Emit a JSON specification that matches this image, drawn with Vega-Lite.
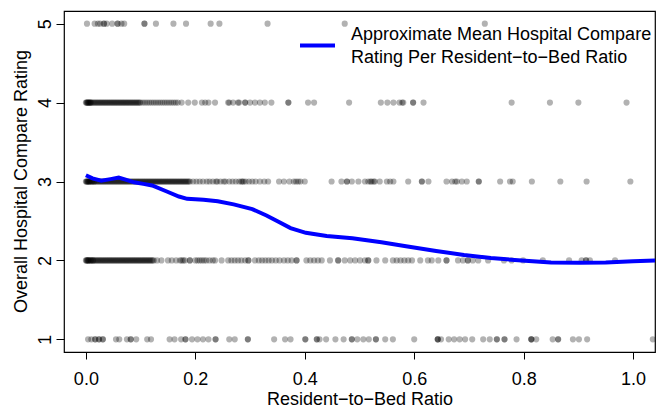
{
"$schema":"https://vega.github.io/schema/vega-lite/v6.json",
"width":591,"height":341,
"autosize":{"type":"none"},
"padding":{"left":64,"top":11,"right":4,"bottom":56},
"config":{"font":"Liberation Sans","view":{"stroke":"black","strokeWidth":1.2},
"axis":{"grid":false,"domain":false,"tickColor":"black","tickWidth":1,"labelColor":"black","labelFontSize":18,"titleColor":"black","titleFontSize":18,"titleFontWeight":"normal","labelFlush":false,"labelOverlap":false,"labelBound":false},
"style":{"guide-label":{"lineHeight":23}}},
"datasets":{
"pts":[
{"ratio":0.002,"rating":5},{"ratio":0.016,"rating":5},{"ratio":0.022,"rating":5},{"ratio":0.026,"rating":5},{"ratio":0.033,"rating":5},{"ratio":0.033,"rating":5},{"ratio":0.038,"rating":5},{"ratio":0.048,"rating":5},{"ratio":0.058,"rating":5},{"ratio":0.058,"rating":5},{"ratio":0.065,"rating":5},{"ratio":0.07,"rating":5},{"ratio":0.107,"rating":5},{"ratio":0.107,"rating":5},{"ratio":0.128,"rating":5},{"ratio":0.16,"rating":5},{"ratio":0.183,"rating":5},{"ratio":0.228,"rating":5},{"ratio":0.244,"rating":5},{"ratio":0.332,"rating":5},{"ratio":0.473,"rating":5},{"ratio":0.729,"rating":5},
{"ratio":0,"rating":4},{"ratio":0.002,"rating":4},{"ratio":0.004,"rating":4},{"ratio":0.006,"rating":4},{"ratio":0.008,"rating":4},{"ratio":0.01,"rating":4},{"ratio":0.012,"rating":4},{"ratio":0.014,"rating":4},{"ratio":0.016,"rating":4},{"ratio":0.018,"rating":4},{"ratio":0.02,"rating":4},{"ratio":0.022,"rating":4},{"ratio":0.024,"rating":4},{"ratio":0.026,"rating":4},{"ratio":0.028,"rating":4},{"ratio":0.03,"rating":4},{"ratio":0.032,"rating":4},{"ratio":0.034,"rating":4},{"ratio":0.036,"rating":4},{"ratio":0.038,"rating":4},{"ratio":0.04,"rating":4},{"ratio":0.042,"rating":4},{"ratio":0.044,"rating":4},{"ratio":0.046,"rating":4},{"ratio":0.048,"rating":4},{"ratio":0.05,"rating":4},{"ratio":0.052,"rating":4},{"ratio":0.054,"rating":4},{"ratio":0.056,"rating":4},{"ratio":0.058,"rating":4},{"ratio":0.06,"rating":4},{"ratio":0.062,"rating":4},{"ratio":0.064,"rating":4},{"ratio":0.066,"rating":4},{"ratio":0.068,"rating":4},{"ratio":0.07,"rating":4},{"ratio":0.072,"rating":4},{"ratio":0.074,"rating":4},{"ratio":0.076,"rating":4},{"ratio":0.078,"rating":4},{"ratio":0.08,"rating":4},{"ratio":0.082,"rating":4},{"ratio":0.084,"rating":4},{"ratio":0.086,"rating":4},{"ratio":0.088,"rating":4},{"ratio":0.09,"rating":4},{"ratio":0.092,"rating":4},{"ratio":0.094,"rating":4},{"ratio":0.096,"rating":4},{"ratio":0.098,"rating":4},{"ratio":0.1,"rating":4},
{"ratio":0.001,"rating":4},{"ratio":0.003,"rating":4},{"ratio":0.005,"rating":4},{"ratio":0.007,"rating":4},{"ratio":0.009,"rating":4},
{"ratio":0.104,"rating":4},{"ratio":0.108,"rating":4},{"ratio":0.112,"rating":4},{"ratio":0.116,"rating":4},{"ratio":0.12,"rating":4},{"ratio":0.124,"rating":4},{"ratio":0.128,"rating":4},{"ratio":0.132,"rating":4},{"ratio":0.136,"rating":4},{"ratio":0.14,"rating":4},{"ratio":0.144,"rating":4},{"ratio":0.148,"rating":4},{"ratio":0.152,"rating":4},{"ratio":0.156,"rating":4},{"ratio":0.16,"rating":4},{"ratio":0.164,"rating":4},{"ratio":0.168,"rating":4},
{"ratio":0.175,"rating":4},{"ratio":0.187,"rating":4},{"ratio":0.199,"rating":4},{"ratio":0.212,"rating":4},{"ratio":0.218,"rating":4},{"ratio":0.224,"rating":4},{"ratio":0.236,"rating":4},{"ratio":0.26,"rating":4},{"ratio":0.262,"rating":4},{"ratio":0.269,"rating":4},{"ratio":0.278,"rating":4},{"ratio":0.28,"rating":4},{"ratio":0.291,"rating":4},{"ratio":0.291,"rating":4},{"ratio":0.3,"rating":4},{"ratio":0.309,"rating":4},{"ratio":0.318,"rating":4},{"ratio":0.327,"rating":4},{"ratio":0.339,"rating":4},{"ratio":0.37,"rating":4},{"ratio":0.37,"rating":4},{"ratio":0.406,"rating":4},{"ratio":0.417,"rating":4},{"ratio":0.481,"rating":4},{"ratio":0.539,"rating":4},{"ratio":0.551,"rating":4},{"ratio":0.562,"rating":4},{"ratio":0.573,"rating":4},{"ratio":0.578,"rating":4},{"ratio":0.58,"rating":4},{"ratio":0.598,"rating":4},{"ratio":0.598,"rating":4},{"ratio":0.617,"rating":4},{"ratio":0.778,"rating":4},{"ratio":0.848,"rating":4},{"ratio":0.9,"rating":4},{"ratio":0.988,"rating":4},
{"ratio":0,"rating":3},{"ratio":0.002,"rating":3},{"ratio":0.004,"rating":3},{"ratio":0.006,"rating":3},{"ratio":0.008,"rating":3},{"ratio":0.01,"rating":3},{"ratio":0.012,"rating":3},{"ratio":0.014,"rating":3},{"ratio":0.016,"rating":3},{"ratio":0.018,"rating":3},{"ratio":0.02,"rating":3},{"ratio":0.022,"rating":3},{"ratio":0.024,"rating":3},{"ratio":0.026,"rating":3},{"ratio":0.028,"rating":3},{"ratio":0.03,"rating":3},{"ratio":0.032,"rating":3},{"ratio":0.034,"rating":3},{"ratio":0.036,"rating":3},{"ratio":0.038,"rating":3},{"ratio":0.04,"rating":3},{"ratio":0.042,"rating":3},{"ratio":0.044,"rating":3},{"ratio":0.046,"rating":3},{"ratio":0.048,"rating":3},{"ratio":0.05,"rating":3},{"ratio":0.052,"rating":3},{"ratio":0.054,"rating":3},{"ratio":0.056,"rating":3},{"ratio":0.058,"rating":3},{"ratio":0.06,"rating":3},{"ratio":0.062,"rating":3},{"ratio":0.064,"rating":3},{"ratio":0.066,"rating":3},{"ratio":0.068,"rating":3},{"ratio":0.07,"rating":3},{"ratio":0.072,"rating":3},{"ratio":0.074,"rating":3},{"ratio":0.076,"rating":3},{"ratio":0.078,"rating":3},{"ratio":0.08,"rating":3},{"ratio":0.082,"rating":3},{"ratio":0.084,"rating":3},{"ratio":0.086,"rating":3},{"ratio":0.088,"rating":3},{"ratio":0.09,"rating":3},{"ratio":0.092,"rating":3},{"ratio":0.094,"rating":3},{"ratio":0.096,"rating":3},{"ratio":0.098,"rating":3},{"ratio":0.1,"rating":3},{"ratio":0.102,"rating":3},{"ratio":0.104,"rating":3},{"ratio":0.106,"rating":3},{"ratio":0.108,"rating":3},{"ratio":0.11,"rating":3},{"ratio":0.112,"rating":3},{"ratio":0.114,"rating":3},{"ratio":0.116,"rating":3},{"ratio":0.118,"rating":3},{"ratio":0.12,"rating":3},{"ratio":0.122,"rating":3},{"ratio":0.124,"rating":3},{"ratio":0.126,"rating":3},{"ratio":0.128,"rating":3},{"ratio":0.13,"rating":3},{"ratio":0.132,"rating":3},{"ratio":0.134,"rating":3},{"ratio":0.136,"rating":3},{"ratio":0.138,"rating":3},{"ratio":0.14,"rating":3},{"ratio":0.142,"rating":3},{"ratio":0.144,"rating":3},{"ratio":0.146,"rating":3},{"ratio":0.148,"rating":3},{"ratio":0.15,"rating":3},{"ratio":0.152,"rating":3},{"ratio":0.154,"rating":3},{"ratio":0.156,"rating":3},{"ratio":0.158,"rating":3},{"ratio":0.16,"rating":3},{"ratio":0.162,"rating":3},{"ratio":0.164,"rating":3},{"ratio":0.166,"rating":3},{"ratio":0.168,"rating":3},{"ratio":0.17,"rating":3},{"ratio":0.172,"rating":3},{"ratio":0.174,"rating":3},{"ratio":0.176,"rating":3},{"ratio":0.178,"rating":3},{"ratio":0.18,"rating":3},{"ratio":0.182,"rating":3},{"ratio":0.184,"rating":3},{"ratio":0.186,"rating":3},{"ratio":0.188,"rating":3},{"ratio":0.19,"rating":3},
{"ratio":0.001,"rating":3},{"ratio":0.003,"rating":3},{"ratio":0.005,"rating":3},{"ratio":0.007,"rating":3},{"ratio":0.011,"rating":3},{"ratio":0.015,"rating":3},
{"ratio":0.196,"rating":3},{"ratio":0.202,"rating":3},{"ratio":0.208,"rating":3},{"ratio":0.214,"rating":3},{"ratio":0.221,"rating":3},{"ratio":0.226,"rating":3},{"ratio":0.232,"rating":3},{"ratio":0.238,"rating":3},{"ratio":0.24,"rating":3},{"ratio":0.246,"rating":3},{"ratio":0.252,"rating":3},{"ratio":0.255,"rating":3},{"ratio":0.262,"rating":3},{"ratio":0.268,"rating":3},{"ratio":0.274,"rating":3},{"ratio":0.28,"rating":3},{"ratio":0.284,"rating":3},{"ratio":0.286,"rating":3},{"ratio":0.288,"rating":3},{"ratio":0.292,"rating":3},{"ratio":0.298,"rating":3},{"ratio":0.304,"rating":3},{"ratio":0.31,"rating":3},{"ratio":0.318,"rating":3},{"ratio":0.326,"rating":3},{"ratio":0.333,"rating":3},
{"ratio":0.353,"rating":3},{"ratio":0.362,"rating":3},{"ratio":0.372,"rating":3},{"ratio":0.38,"rating":3},{"ratio":0.384,"rating":3},{"ratio":0.388,"rating":3},{"ratio":0.392,"rating":3},{"ratio":0.4,"rating":3},
{"ratio":0.449,"rating":3},{"ratio":0.467,"rating":3},{"ratio":0.477,"rating":3},{"ratio":0.477,"rating":3},{"ratio":0.486,"rating":3},{"ratio":0.498,"rating":3},{"ratio":0.51,"rating":3},{"ratio":0.516,"rating":3},{"ratio":0.52,"rating":3},{"ratio":0.522,"rating":3},{"ratio":0.526,"rating":3},{"ratio":0.528,"rating":3},{"ratio":0.537,"rating":3},{"ratio":0.55,"rating":3},{"ratio":0.556,"rating":3},{"ratio":0.562,"rating":3},{"ratio":0.589,"rating":3},{"ratio":0.614,"rating":3},{"ratio":0.614,"rating":3},{"ratio":0.626,"rating":3},{"ratio":0.659,"rating":3},{"ratio":0.669,"rating":3},{"ratio":0.675,"rating":3},{"ratio":0.678,"rating":3},{"ratio":0.687,"rating":3},{"ratio":0.696,"rating":3},{"ratio":0.718,"rating":3},{"ratio":0.718,"rating":3},{"ratio":0.757,"rating":3},{"ratio":0.775,"rating":3},{"ratio":0.78,"rating":3},{"ratio":0.815,"rating":3},{"ratio":0.867,"rating":3},{"ratio":0.915,"rating":3},{"ratio":0.995,"rating":3},
{"ratio":0,"rating":2},{"ratio":0.002,"rating":2},{"ratio":0.004,"rating":2},{"ratio":0.006,"rating":2},{"ratio":0.008,"rating":2},{"ratio":0.01,"rating":2},{"ratio":0.012,"rating":2},{"ratio":0.014,"rating":2},{"ratio":0.016,"rating":2},{"ratio":0.018,"rating":2},{"ratio":0.02,"rating":2},{"ratio":0.022,"rating":2},{"ratio":0.024,"rating":2},{"ratio":0.026,"rating":2},{"ratio":0.028,"rating":2},{"ratio":0.03,"rating":2},{"ratio":0.032,"rating":2},{"ratio":0.034,"rating":2},{"ratio":0.036,"rating":2},{"ratio":0.038,"rating":2},{"ratio":0.04,"rating":2},{"ratio":0.042,"rating":2},{"ratio":0.044,"rating":2},{"ratio":0.046,"rating":2},{"ratio":0.048,"rating":2},{"ratio":0.05,"rating":2},{"ratio":0.052,"rating":2},{"ratio":0.054,"rating":2},{"ratio":0.056,"rating":2},{"ratio":0.058,"rating":2},{"ratio":0.06,"rating":2},{"ratio":0.062,"rating":2},{"ratio":0.064,"rating":2},{"ratio":0.066,"rating":2},{"ratio":0.068,"rating":2},{"ratio":0.07,"rating":2},{"ratio":0.072,"rating":2},{"ratio":0.074,"rating":2},{"ratio":0.076,"rating":2},{"ratio":0.078,"rating":2},{"ratio":0.08,"rating":2},{"ratio":0.082,"rating":2},{"ratio":0.084,"rating":2},{"ratio":0.086,"rating":2},{"ratio":0.088,"rating":2},{"ratio":0.09,"rating":2},{"ratio":0.092,"rating":2},{"ratio":0.094,"rating":2},{"ratio":0.096,"rating":2},{"ratio":0.098,"rating":2},{"ratio":0.1,"rating":2},{"ratio":0.102,"rating":2},{"ratio":0.104,"rating":2},{"ratio":0.106,"rating":2},{"ratio":0.108,"rating":2},{"ratio":0.11,"rating":2},{"ratio":0.112,"rating":2},{"ratio":0.114,"rating":2},{"ratio":0.116,"rating":2},{"ratio":0.118,"rating":2},{"ratio":0.12,"rating":2},{"ratio":0.122,"rating":2},{"ratio":0.124,"rating":2},
{"ratio":0.001,"rating":2},{"ratio":0.003,"rating":2},{"ratio":0.005,"rating":2},{"ratio":0.009,"rating":2},{"ratio":0.013,"rating":2},
{"ratio":0.13,"rating":2},{"ratio":0.138,"rating":2},{"ratio":0.15,"rating":2},{"ratio":0.157,"rating":2},{"ratio":0.165,"rating":2},{"ratio":0.172,"rating":2},{"ratio":0.175,"rating":2},{"ratio":0.178,"rating":2},{"ratio":0.181,"rating":2},{"ratio":0.19,"rating":2},{"ratio":0.19,"rating":2},{"ratio":0.2,"rating":2},{"ratio":0.204,"rating":2},{"ratio":0.208,"rating":2},{"ratio":0.212,"rating":2},{"ratio":0.216,"rating":2},{"ratio":0.22,"rating":2},{"ratio":0.226,"rating":2},{"ratio":0.232,"rating":2},{"ratio":0.236,"rating":2},{"ratio":0.248,"rating":2},{"ratio":0.26,"rating":2},{"ratio":0.266,"rating":2},{"ratio":0.272,"rating":2},{"ratio":0.278,"rating":2},{"ratio":0.284,"rating":2},{"ratio":0.291,"rating":2},{"ratio":0.297,"rating":2},{"ratio":0.297,"rating":2},{"ratio":0.309,"rating":2},{"ratio":0.316,"rating":2},{"ratio":0.322,"rating":2},{"ratio":0.328,"rating":2},{"ratio":0.334,"rating":2},{"ratio":0.34,"rating":2},{"ratio":0.347,"rating":2},{"ratio":0.354,"rating":2},{"ratio":0.362,"rating":2},{"ratio":0.369,"rating":2},{"ratio":0.376,"rating":2},{"ratio":0.385,"rating":2},{"ratio":0.385,"rating":2},{"ratio":0.403,"rating":2},{"ratio":0.41,"rating":2},{"ratio":0.417,"rating":2},{"ratio":0.424,"rating":2},{"ratio":0.431,"rating":2},{"ratio":0.446,"rating":2},{"ratio":0.461,"rating":2},{"ratio":0.461,"rating":2},{"ratio":0.473,"rating":2},{"ratio":0.483,"rating":2},{"ratio":0.492,"rating":2},{"ratio":0.501,"rating":2},{"ratio":0.51,"rating":2},{"ratio":0.516,"rating":2},{"ratio":0.516,"rating":2},{"ratio":0.531,"rating":2},{"ratio":0.547,"rating":2},{"ratio":0.561,"rating":2},{"ratio":0.568,"rating":2},{"ratio":0.575,"rating":2},{"ratio":0.582,"rating":2},{"ratio":0.589,"rating":2},{"ratio":0.596,"rating":2},{"ratio":0.611,"rating":2},{"ratio":0.625,"rating":2},{"ratio":0.632,"rating":2},{"ratio":0.644,"rating":2},{"ratio":0.659,"rating":2},{"ratio":0.659,"rating":2},{"ratio":0.68,"rating":2},{"ratio":0.689,"rating":2},{"ratio":0.698,"rating":2},{"ratio":0.698,"rating":2},{"ratio":0.707,"rating":2},{"ratio":0.717,"rating":2},{"ratio":0.735,"rating":2},{"ratio":0.764,"rating":2},{"ratio":0.778,"rating":2},{"ratio":0.799,"rating":2},{"ratio":0.835,"rating":2},{"ratio":0.883,"rating":2},{"ratio":0.906,"rating":2},{"ratio":0.914,"rating":2},{"ratio":0.914,"rating":2},{"ratio":0.921,"rating":2},{"ratio":0.967,"rating":2},
{"ratio":0.004,"rating":1},{"ratio":0.01,"rating":1},{"ratio":0.017,"rating":1},{"ratio":0.017,"rating":1},{"ratio":0.024,"rating":1},{"ratio":0.024,"rating":1},{"ratio":0.031,"rating":1},{"ratio":0.031,"rating":1},{"ratio":0.055,"rating":1},{"ratio":0.061,"rating":1},{"ratio":0.075,"rating":1},{"ratio":0.082,"rating":1},{"ratio":0.082,"rating":1},{"ratio":0.092,"rating":1},{"ratio":0.112,"rating":1},{"ratio":0.119,"rating":1},{"ratio":0.153,"rating":1},{"ratio":0.162,"rating":1},{"ratio":0.174,"rating":1},{"ratio":0.182,"rating":1},{"ratio":0.182,"rating":1},{"ratio":0.194,"rating":1},{"ratio":0.204,"rating":1},{"ratio":0.214,"rating":1},{"ratio":0.224,"rating":1},{"ratio":0.237,"rating":1},{"ratio":0.237,"rating":1},{"ratio":0.262,"rating":1},{"ratio":0.272,"rating":1},{"ratio":0.296,"rating":1},{"ratio":0.296,"rating":1},{"ratio":0.344,"rating":1},{"ratio":0.364,"rating":1},{"ratio":0.374,"rating":1},{"ratio":0.401,"rating":1},{"ratio":0.401,"rating":1},{"ratio":0.422,"rating":1},{"ratio":0.422,"rating":1},{"ratio":0.427,"rating":1},{"ratio":0.439,"rating":1},{"ratio":0.456,"rating":1},{"ratio":0.471,"rating":1},{"ratio":0.486,"rating":1},{"ratio":0.486,"rating":1},{"ratio":0.496,"rating":1},{"ratio":0.507,"rating":1},{"ratio":0.517,"rating":1},{"ratio":0.53,"rating":1},{"ratio":0.53,"rating":1},{"ratio":0.547,"rating":1},{"ratio":0.561,"rating":1},{"ratio":0.6,"rating":1},{"ratio":0.643,"rating":1},{"ratio":0.643,"rating":1},{"ratio":0.643,"rating":1},{"ratio":0.649,"rating":1},{"ratio":0.663,"rating":1},{"ratio":0.673,"rating":1},{"ratio":0.683,"rating":1},{"ratio":0.693,"rating":1},{"ratio":0.706,"rating":1},{"ratio":0.726,"rating":1},{"ratio":0.738,"rating":1},{"ratio":0.751,"rating":1},{"ratio":0.751,"rating":1},{"ratio":0.765,"rating":1},{"ratio":0.765,"rating":1},{"ratio":0.787,"rating":1},{"ratio":0.814,"rating":1},{"ratio":0.814,"rating":1},{"ratio":0.814,"rating":1},{"ratio":0.823,"rating":1},{"ratio":0.853,"rating":1},{"ratio":0.863,"rating":1},{"ratio":0.863,"rating":1},{"ratio":0.89,"rating":1},{"ratio":0.901,"rating":1},{"ratio":0.916,"rating":1},{"ratio":1.036,"rating":1}
],
"curve":[
{"ratio":0,"mean":3.08},{"ratio":0.012,"mean":3.04},{"ratio":0.028,"mean":3.01},{"ratio":0.045,"mean":3.03},{"ratio":0.06,"mean":3.05},{"ratio":0.074,"mean":3.02},{"ratio":0.088,"mean":2.99},{"ratio":0.105,"mean":2.97},{"ratio":0.121,"mean":2.95},{"ratio":0.149,"mean":2.87},{"ratio":0.17,"mean":2.81},{"ratio":0.185,"mean":2.78},{"ratio":0.215,"mean":2.77},{"ratio":0.241,"mean":2.75},{"ratio":0.27,"mean":2.71},{"ratio":0.304,"mean":2.65},{"ratio":0.33,"mean":2.57},{"ratio":0.352,"mean":2.49},{"ratio":0.374,"mean":2.41},{"ratio":0.402,"mean":2.35},{"ratio":0.44,"mean":2.31},{"ratio":0.487,"mean":2.28},{"ratio":0.54,"mean":2.23},{"ratio":0.585,"mean":2.18},{"ratio":0.64,"mean":2.12},{"ratio":0.691,"mean":2.07},{"ratio":0.74,"mean":2.03},{"ratio":0.796,"mean":2.0},{"ratio":0.85,"mean":1.975},{"ratio":0.902,"mean":1.97},{"ratio":0.95,"mean":1.975},{"ratio":1.0,"mean":1.99},{"ratio":1.045,"mean":2.0}
]},
"layer":[
{"data":{"name":"pts"},
"mark":{"type":"circle","size":38,"opacity":0.3,"color":"black","clip":true},
"encoding":{
"x":{"field":"ratio","type":"quantitative","scale":{"domain":[-0.04,1.04],"nice":false,"zero":false},
"axis":{"values":[0,0.2,0.4,0.6,0.8,1],"format":".1f","title":"Resident−to−Bed Ratio","tickSize":7,"labelPadding":11,"titleBaseline":"alphabetic","titleY":52}},
"y":{"field":"rating","type":"quantitative","scale":{"domain":[0.84,5.16],"nice":false,"zero":false},
"axis":{"values":[1,2,3,4,5],"format":"d","title":"Overall Hospital Compare Rating","tickSize":8,"labelPadding":6,"labelAngle":270,"labelAlign":"center","labelBaseline":"alphabetic","titleAngle":270,"titleAlign":"center","titleBaseline":"alphabetic","titleX":-38,"titleY":170}}}},
{"data":{"name":"curve"},
"mark":{"type":"line","strokeWidth":4,"clip":true},
"encoding":{
"x":{"field":"ratio","type":"quantitative"},
"y":{"field":"mean","type":"quantitative"},
"color":{"datum":"Approximate Mean Hospital Compare Rating Per Resident−to−Bed Ratio","type":"nominal","scale":{"range":["#0000ff"]},
"legend":{"orient":"none","legendX":234,"legendY":15,"title":null,"padding":0,"symbolType":"stroke","symbolSize":1225,"symbolStrokeWidth":4,"labelFontSize":18,"labelColor":"black","labelOffset":14,"labelLimit":0,"labelBaseline":"line-bottom","labelExpr":"['Approximate Mean Hospital Compare', '\u00a0Rating Per Resident−to−Bed Ratio']"}}}}
]
}
